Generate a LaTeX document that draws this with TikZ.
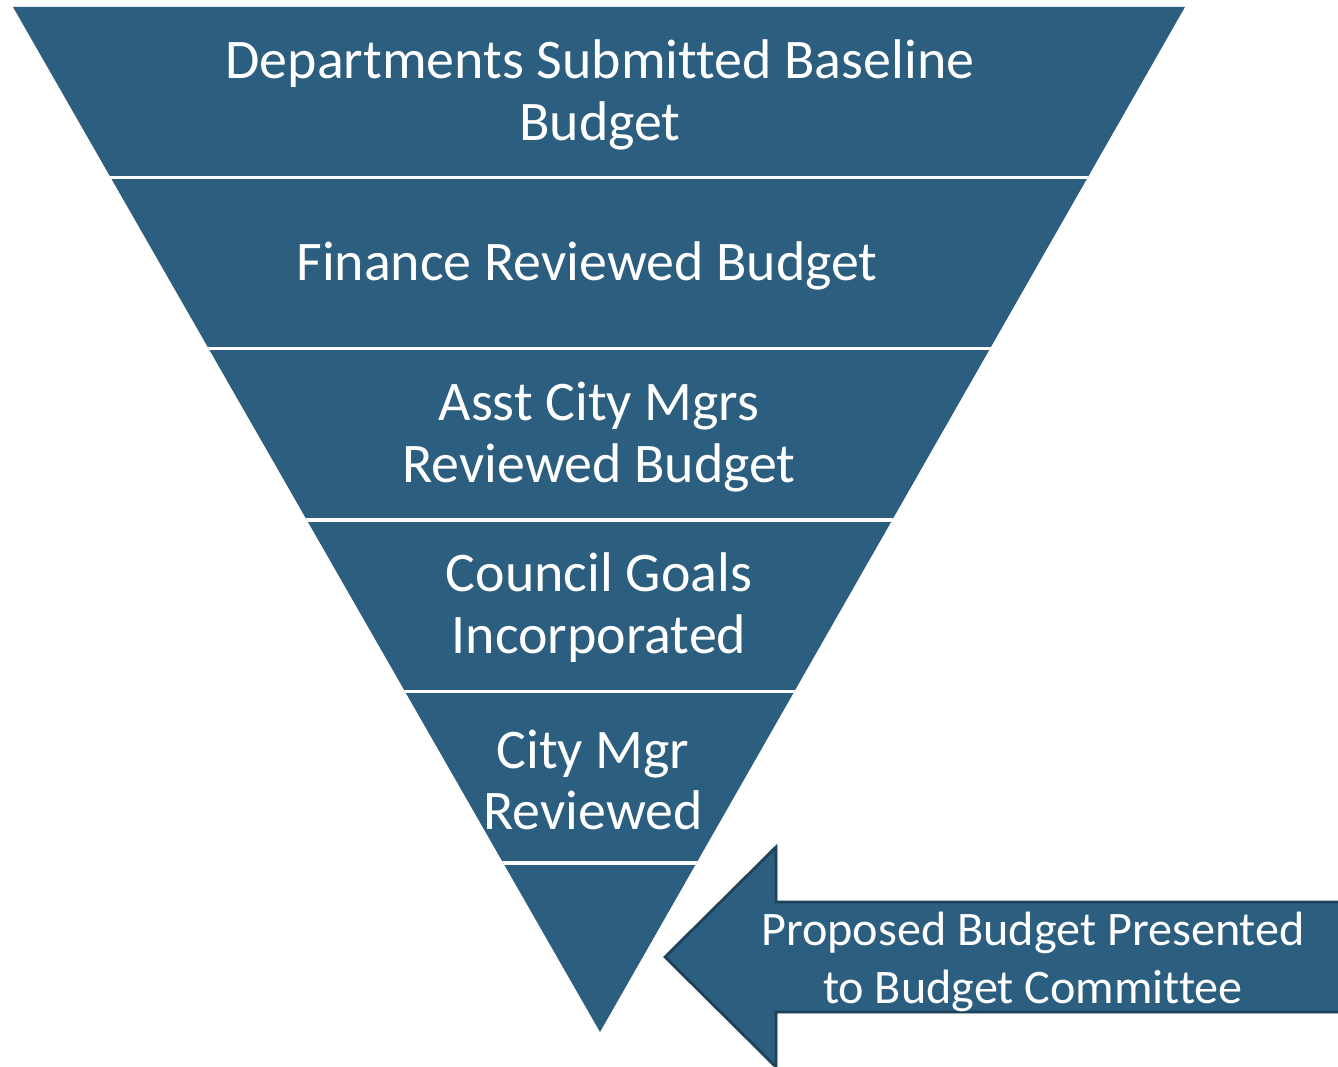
\documentclass[tikz,border=0pt]{standalone}
\usepackage{fontspec}
\setmainfont{Carlito}[Ligatures=NoCommon]
\definecolor{band}{RGB}{44,94,128}
\definecolor{bandedge}{RGB}{30,66,92}
\tikzset{
  stagetext/.style={text=white, align=center, font=\fontsize{15.9}{17.6}\selectfont},
  arrowtext/.style={text=white, align=center, font=\fontsize{13.7}{16.5}\selectfont},
  divider/.style={white, line width=0.9pt},
}
\begin{document}
\begin{tikzpicture}[x=0.01cm, y=-0.01cm]
  \useasboundingbox (0,0) rectangle (1338,1067);
  \fill[white] (0,0) rectangle (1338,1067);

  % inverted funnel
  \coordinate (tl) at (13,7);
  \coordinate (tr) at (1185,7);
  \coordinate (apex) at (600,1032);
  \fill[band] (tl) -- (tr) -- (apex) -- cycle;

  % dividers between the stages
  \begin{scope}
    \clip (tl) -- (tr) -- (apex) -- cycle;
    \foreach \yy in {177.5, 348.5, 520, 691.5, 863} {
      \draw[divider] (0,\yy) -- (1338,\yy);
    }
  \end{scope}

  % stage labels
  \node[stagetext] (s1) at (600,95)  {Departments Submitted Baseline\\Budget};
  \node[stagetext] (s2) at (587,266) {Finance Reviewed Budget};
  \node[stagetext] (s3) at (599,437) {Asst City Mgrs\\Reviewed Budget};
  \node[stagetext] (s4) at (599,608) {Council Goals\\Incorporated};
  \node[stagetext] (s5) at (593,780) {City Mgr\\Reviewed};

  % incoming arrow
  \fill[black!25, opacity=0.4] (667,959) -- (778,849) -- (778,904) -- (1345,904) -- (1345,1014)
      -- (778,1014) -- (778,1069) -- cycle;
  \draw[bandedge, fill=band, line width=0.8pt, line join=miter]
      (665,957) -- (776,847) -- (776,902) -- (1345,902) -- (1345,1012)
      -- (776,1012) -- (776,1067) -- cycle;
  \node[arrowtext] (a) at (1033,962) {Proposed Budget Presented\\to Budget Committee};
\end{tikzpicture}
\end{document}
